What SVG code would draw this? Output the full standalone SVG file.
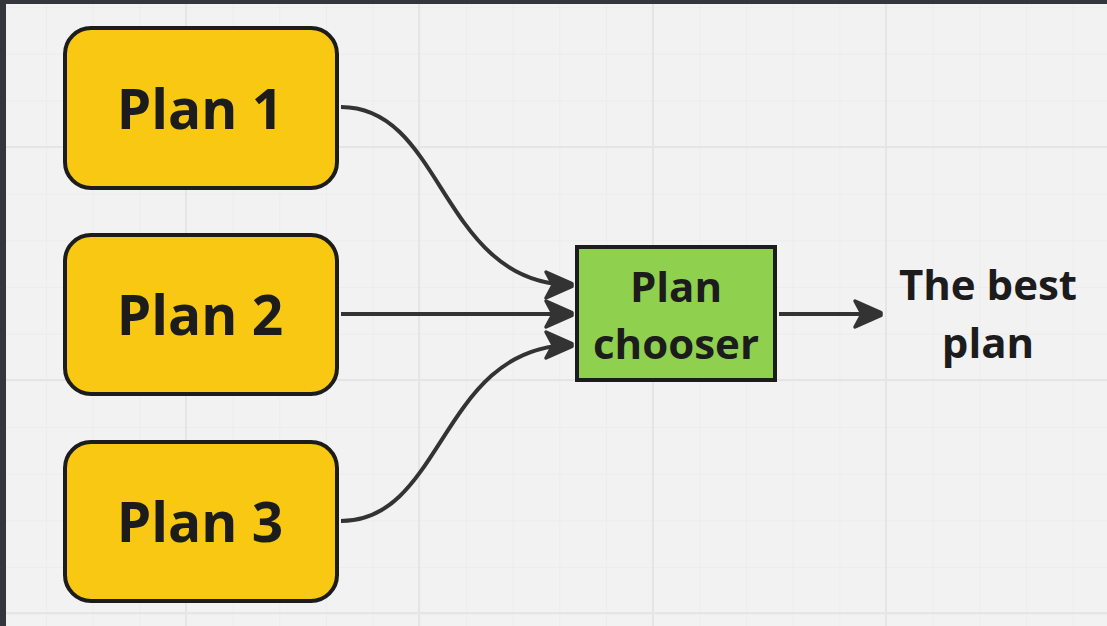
<svg xmlns="http://www.w3.org/2000/svg" width="1107" height="626" viewBox="0 0 1107 626">
<style>
.minor{stroke:#e8e8e8;stroke-width:1}
.major{stroke:#e5e5e5;stroke-width:2}
.plan{fill:#f8c812;stroke:#1c1c1c;stroke-width:4}
.lbl{font-family:"Open Sans","Noto Sans",sans-serif;font-weight:700;fill:#1c1c1c;text-anchor:middle}
.conn{fill:none;stroke:#333333;stroke-width:4}
</style>
<defs>
<pattern id="grid" x="186" y="147" width="46.67" height="46.67" patternUnits="userSpaceOnUse">
<path d="M0,0 H46.67 M0,0 V46.67" class="minor"/>
</pattern>
<marker id="ah" markerWidth="36" markerHeight="36" viewBox="0 0 36 36" refX="32" refY="18" orient="auto" markerUnits="userSpaceOnUse">
<path d="M5,5 L31,16.5 L31,19.5 L5,31 L12,18 Z" fill="#333333" stroke="#333333" stroke-width="3.5" stroke-linejoin="round"/>
</marker>
</defs>
<rect width="1107" height="626" fill="#f2f2f2"/>
<rect width="1107" height="626" fill="url(#grid)"/>
<g class="major">
<line x1="186" y1="0" x2="186" y2="626"/>
<line x1="419" y1="0" x2="419" y2="626"/>
<line x1="653" y1="0" x2="653" y2="626"/>
<line x1="886" y1="0" x2="886" y2="626"/>
<line x1="0" y1="147" x2="1107" y2="147"/>
<line x1="0" y1="380" x2="1107" y2="380"/>
<line x1="0" y1="613" x2="1107" y2="613"/>
</g>
<rect x="0" y="0" width="1107" height="4" fill="#35363b"/>
<rect x="0" y="0" width="6" height="626" fill="#35363b"/>
<g id="connectors">
<path class="conn" d="M341,107 C445,107 440,285 573,285" marker-end="url(#ah)"/>
<path class="conn" d="M341,314 L573,314" marker-end="url(#ah)"/>
<path class="conn" d="M341,521 C445,521 440,345 573,345" marker-end="url(#ah)"/>
<path class="conn" d="M779,314 L882,314" marker-end="url(#ah)"/>
</g>
<g id="plan1">
<rect class="plan" x="65" y="28" width="272" height="160" rx="26"/>
<text class="lbl" x="200" y="129" font-size="55">Plan 1</text>
</g>
<g id="plan2">
<rect class="plan" x="65" y="235" width="272" height="159" rx="26"/>
<text class="lbl" x="200" y="335" font-size="55">Plan 2</text>
</g>
<g id="plan3">
<rect class="plan" x="65" y="442" width="272" height="159" rx="26"/>
<text class="lbl" x="200" y="542" font-size="55">Plan 3</text>
</g>
<g id="chooser">
<rect x="577" y="247" width="198" height="133" fill="#8fd14f" stroke="#1c1c1c" stroke-width="4"/>
<text class="lbl" x="676" y="302" font-size="42">Plan</text>
<text class="lbl" x="676" y="359" font-size="42">chooser</text>
</g>
<g id="result">
<text class="lbl" x="988" y="300" font-size="42">The best</text>
<text class="lbl" x="988" y="358" font-size="42">plan</text>
</g>
</svg>
